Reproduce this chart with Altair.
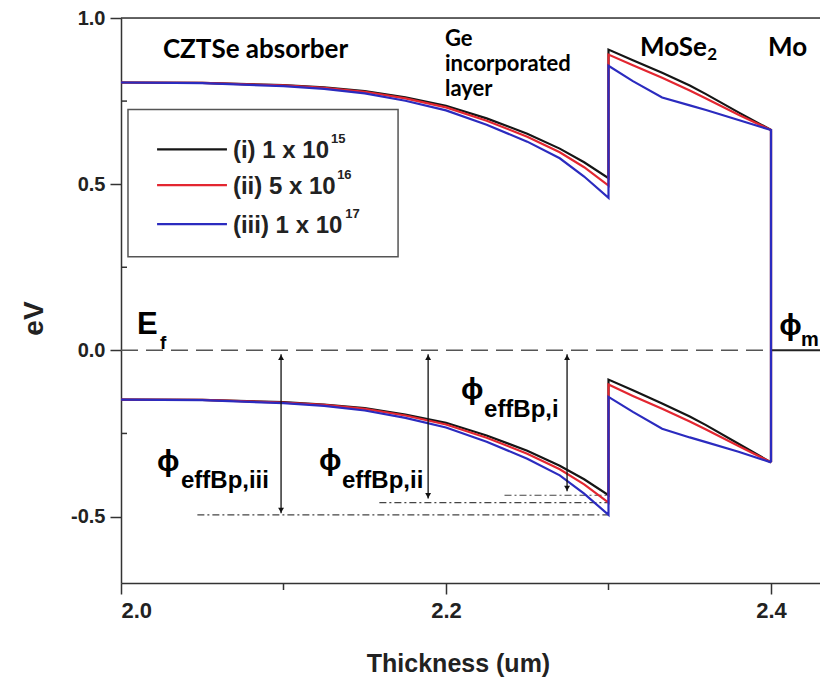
import altair as alt
import pandas as pd

# ---------------- data ----------------
series = ["(i) 1 x 10", "(ii) 5 x 10", "(iii) 1 x 10"]
exponents = ["15", "16", "17"]
colors = ["#151515", "#e32630", "#2b2bbf"]

# CZTSe absorber / Ge incorporated layer region
x_czts = [2.0, 2.05, 2.1, 2.125, 2.15, 2.175, 2.2, 2.225, 2.25, 2.27, 2.285, 2.3]
upper_czts = [
    [0.806, 0.805, 0.798, 0.791, 0.780, 0.761, 0.736, 0.698, 0.652, 0.607, 0.566, 0.518],
    [0.806, 0.805, 0.797, 0.790, 0.778, 0.758, 0.731, 0.691, 0.643, 0.596, 0.551, 0.496],
    [0.806, 0.804, 0.795, 0.787, 0.773, 0.751, 0.722, 0.679, 0.628, 0.578, 0.523, 0.459],
]
lower_czts = [
    [-0.148, -0.149, -0.156, -0.163, -0.174, -0.193, -0.218, -0.256, -0.302, -0.347, -0.388, -0.436],
    [-0.148, -0.149, -0.157, -0.164, -0.176, -0.196, -0.223, -0.263, -0.311, -0.358, -0.403, -0.458],
    [-0.148, -0.150, -0.159, -0.167, -0.181, -0.203, -0.232, -0.275, -0.326, -0.376, -0.431, -0.495],
]
# MoSe2 region
x_mose = [2.3, 2.315, 2.333, 2.35, 2.36, 2.38, 2.4]
upper_mose = [
    [0.905, 0.873, 0.835, 0.797, 0.771, 0.716, 0.663],
    [0.890, 0.858, 0.820, 0.782, 0.758, 0.709, 0.663],
    [0.856, 0.810, 0.761, 0.737, 0.723, 0.693, 0.663],
]
lower_mose = [
    [-0.088, -0.120, -0.160, -0.199, -0.225, -0.281, -0.337],
    [-0.103, -0.137, -0.176, -0.214, -0.238, -0.288, -0.337],
    [-0.140, -0.185, -0.236, -0.262, -0.276, -0.305, -0.337],
]
x_mo = 2.4

# Fermi level / metal
ef_level = 0.0
x_max = 2.43015

# barrier-height markers
dd_y = [-0.436, -0.458, -0.495]
dd_x_start = [2.236, 2.159, 2.047]
arrow_x = [2.2745, 2.189, 2.0985]
arrow_top = [-0.012, -0.012, -0.012]
arrow_bottom = [-0.424, -0.446, -0.490]

x_ticks = [2.0, 2.2, 2.4]
x_minor = [2.1, 2.3]
y_ticks = [-0.5, 0.0, 0.5, 1.0]
y_minor = [-0.25, 0.25, 0.75]

# ---------------- build tables ----------------
rows = []
for s, uc, lc, um, lm in zip(series, upper_czts, lower_czts, upper_mose, lower_mose):
    xs = x_czts + x_mose + [x_mo]
    ys = uc + um + [lm[-1]]
    for i, (a, b) in enumerate(zip(xs, ys)):
        rows.append(dict(series=s, band="upper", order=i, x=a, y=b))
    xs = x_czts + x_mose
    ys = lc + lm
    for i, (a, b) in enumerate(zip(xs, ys)):
        rows.append(dict(series=s, band="lower", order=i, x=a, y=b))
bands = pd.DataFrame(rows)

XS = alt.Scale(domain=[2.0, x_max], nice=False, zero=False)
YS = alt.Scale(domain=[-0.7, 1.0], nice=False, zero=False)

FONT = "Liberation Sans"
xaxis = alt.Axis(values=x_ticks, format=".1f", tickSize=11, labelPadding=6,
                 labelFontSize=22, labelFont=FONT, labelFontWeight="bold",
                 labelColor="#222", title="Thickness (um)", titleFont=FONT,
                 titleFontSize=25, titleFontWeight="bold", titleColor="#222",
                 titleX=337, titleY=88, titleBaseline="alphabetic", titleAlign="center",
                 grid=False, domainColor="#333", domainWidth=1.5,
                 tickColor="#333", tickWidth=1.5)
yaxis = alt.Axis(values=y_ticks, tickSize=11, labelPadding=5,
                 labelExpr="datum.value < 0 ? '-' + format(-datum.value, '.1f') : format(datum.value, '.1f')",
                 labelFontSize=20, labelFont=FONT, labelFontWeight="bold",
                 labelColor="#222", title="eV", titleFont=FONT,
                 titleFontSize=28, titleFontWeight="bold", titleColor="#222",
                 titleX=-87, titleY=300, titleAngle=270, titleBaseline="middle",
                 titleAlign="center", grid=False, domainColor="#333",
                 domainWidth=1.5, tickColor="#333", tickWidth=1.5)

X = alt.X("x:Q", scale=XS, axis=xaxis)
Y = alt.Y("y:Q", scale=YS, axis=yaxis)

layers = []

# frame top line
top_df = pd.DataFrame({"x": [2.0], "x2": [x_max], "y": [1.0]})
layers.append(alt.Chart(top_df).mark_rule(color="#333", strokeWidth=1.5).encode(x=X, x2="x2:Q", y=Y))

# Fermi level dashed line and metal level
ef_df = pd.DataFrame({"x": [2.0], "x2": [x_mo], "y": [ef_level]})
layers.append(alt.Chart(ef_df).mark_rule(color="#555", strokeWidth=1.5, strokeDash=[17, 8]).encode(x=X, x2="x2:Q", y=Y))
mo_df = pd.DataFrame({"x": [x_mo], "x2": [x_max], "y": [ef_level]})
layers.append(alt.Chart(mo_df).mark_rule(color="#222", strokeWidth=2).encode(x=X, x2="x2:Q", y=Y))

# dash-dot lines
dd_df = pd.DataFrame({"x": dd_x_start, "x2": [2.3] * 3, "y": dd_y})
layers.append(alt.Chart(dd_df).mark_rule(color="#444", strokeWidth=1.2, strokeDash=[7, 3, 2, 3]).encode(x=X, x2="x2:Q", y=Y))

# band curves
for s, c in zip(series, colors):
    layers.append(alt.Chart(bands[bands.series == s]).mark_line(color=c, strokeWidth=2.2).encode(
        x=X, y=Y, detail="band:N", order="order:Q"))

# arrows
ar_df = pd.DataFrame({"x": arrow_x, "y": arrow_top, "y2": arrow_bottom})
layers.append(alt.Chart(ar_df).mark_rule(color="#111", strokeWidth=1.3).encode(x=X, y=Y, y2="y2:Q"))
up_df = pd.DataFrame({"x": arrow_x, "y": [v - 0.009 for v in arrow_top]})
layers.append(alt.Chart(up_df).mark_point(shape="triangle-up", filled=True, color="#111", size=35, opacity=1).encode(x=X, y=Y))
dn_df = pd.DataFrame({"x": arrow_x, "y": [v + 0.009 for v in arrow_bottom]})
layers.append(alt.Chart(dn_df).mark_point(shape="triangle-down", filled=True, color="#111", size=35, opacity=1).encode(x=X, y=Y))

# minor ticks
mx_df = pd.DataFrame({"x": x_minor})
layers.append(alt.Chart(mx_df).mark_rule(color="#333", strokeWidth=1.5).encode(x=X, y=alt.value(565), y2=alt.value(572)))
my_df = pd.DataFrame({"y": y_minor})
layers.append(alt.Chart(my_df).mark_rule(color="#333", strokeWidth=1.5).encode(y=Y, x=alt.value(0), x2=alt.value(6)))

# legend box
lg_df = pd.DataFrame({"x": [2.0043], "x2": [2.1705], "y": [0.7246], "y2": [0.2814]})
layers.append(alt.Chart(lg_df).mark_rect(fill="white", stroke="#555", strokeWidth=1.5).encode(x=X, x2="x2:Q", y=Y, y2="y2:Q"))
leg_y = [0.605, 0.497, 0.380]
ll_df = pd.DataFrame({"x": [2.0222] * 3, "x2": [2.0652] * 3, "y": leg_y, "c": colors})
layers.append(alt.Chart(ll_df).mark_rule(strokeWidth=2.2).encode(
    x=X, x2="x2:Q", y=Y, color=alt.Color("c:N", scale=None)))
lt_df = pd.DataFrame({"x": [2.0689] * 3, "y": [v - 0.006 for v in leg_y], "text": series})
layers.append(alt.Chart(lt_df).mark_text(align="left", baseline="middle", font=FONT, fontSize=24,
                                         fontWeight="bold", color="#222").encode(x=X, y=Y, text="text:N"))
ls_df = pd.DataFrame({"x": [2.1292, 2.1330, 2.1380], "y": [v + 0.03 for v in leg_y], "text": exponents})
layers.append(alt.Chart(ls_df).mark_text(align="left", baseline="middle", font=FONT, fontSize=13,
                                         fontWeight="bold", color="#222").encode(x=X, y=Y, text="text:N"))


def text_layer(texts, xs, ys, size, font=FONT, baseline="alphabetic"):
    d = pd.DataFrame({"x": xs, "y": ys, "text": texts})
    return alt.Chart(d).mark_text(align="left", baseline=baseline, font=font, fontSize=size,
                                  fontWeight="bold", color="black").encode(x=X, y=Y, text="text:N")


# region labels
layers.append(text_layer(["CZTSe absorber"], [2.0258], [0.880], 26, font="Lato"))
layers.append(text_layer(["Ge", "incorporated", "layer"], [2.1994] * 3, [0.916, 0.841, 0.766], 22, font="Lato"))
layers.append(text_layer(["MoSe", "Mo"], [2.3194, 2.3982], [0.886, 0.886], 26, font="Lato"))
layers.append(text_layer(["2"], [2.3607], [0.874], 17, font="Lato"))

# Ef and phi labels
layers.append(text_layer(["E"], [2.0098], [0.048], 31))
layers.append(text_layer(["f"], [2.0240], [0.003], 19))
layers.append(text_layer(["\u03d5", "\u03d5", "\u03d5", "\u03d5"],
                         [2.0222, 2.1219, 2.2092, 2.4050], [-0.335, -0.332, -0.120, 0.072], 30,
                         baseline="middle"))
layers.append(text_layer(["effBp,iii", "effBp,ii", "effBp,i"],
                         [2.0369, 2.1360, 2.2234], [-0.413, -0.413, -0.201], 24))
layers.append(text_layer(["m"], [2.4185], [0.012], 20))

chart = alt.layer(*layers).properties(
    width=699, height=565,
    autosize=alt.AutoSizeParams(type="none"),
    padding={"left": 113, "top": 10, "right": 0, "bottom": 95},
).configure_view(stroke=None).configure(background="white")

chart.save("out.html", embed_options={"renderer": "svg", "actions": False})
